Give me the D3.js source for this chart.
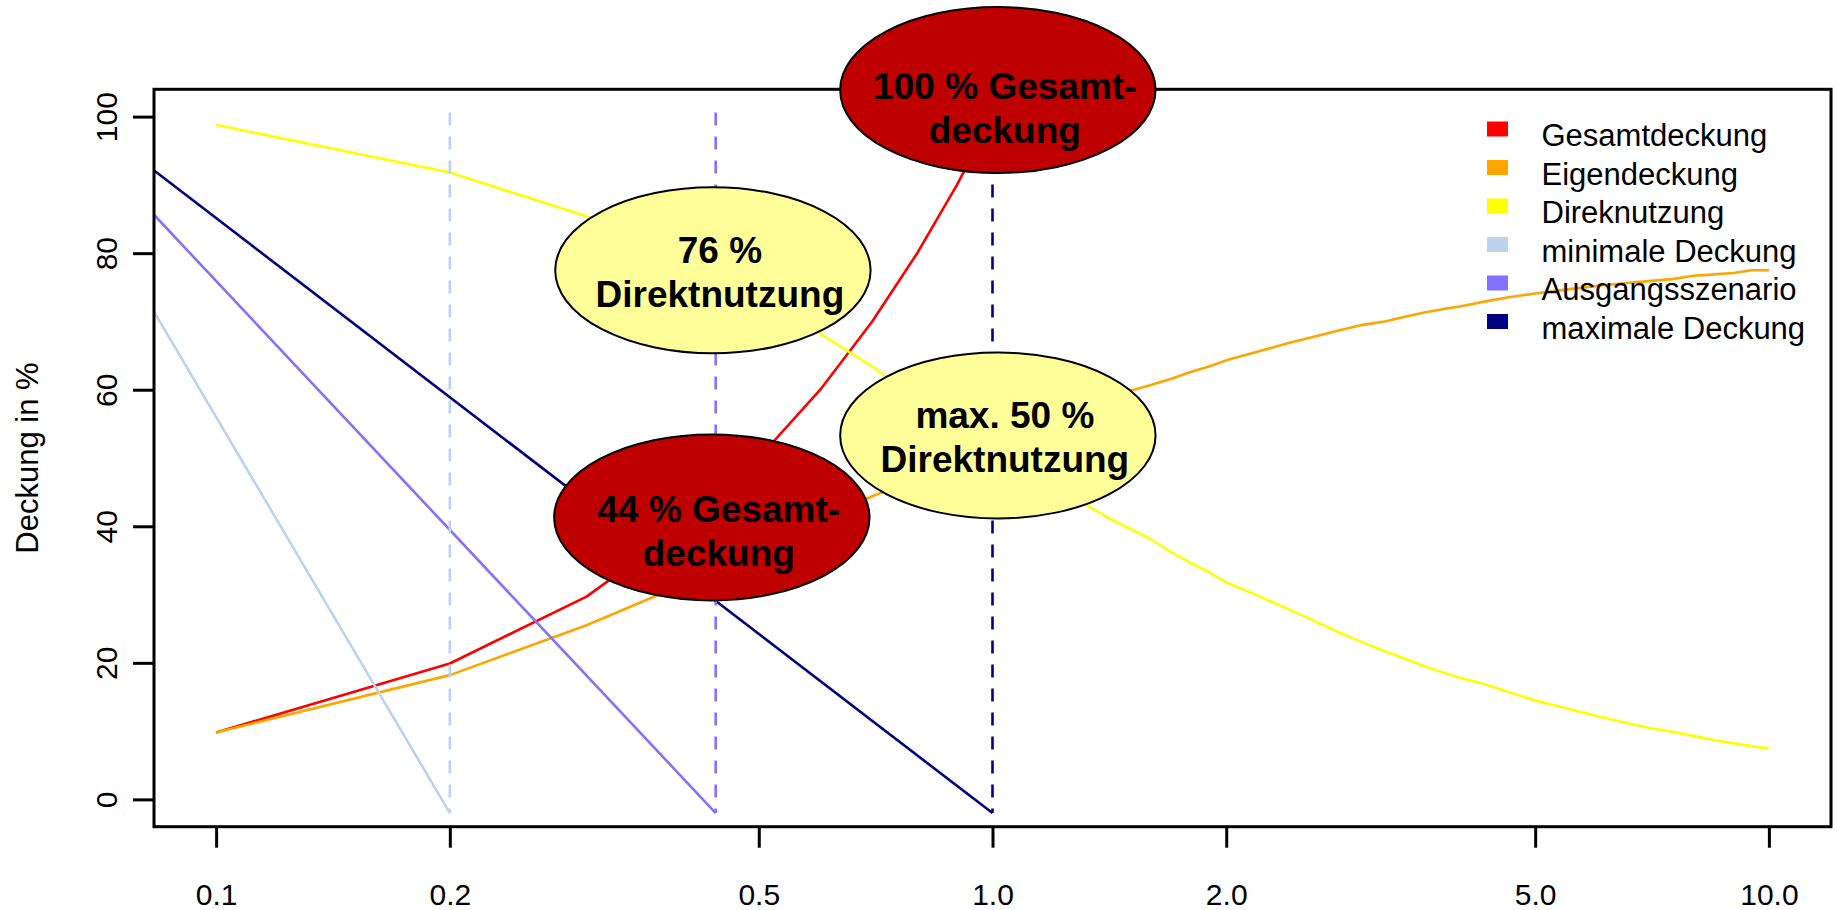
<!DOCTYPE html>
<html>
<head>
<meta charset="utf-8">
<script src="https://cdn.jsdelivr.net/npm/d3@7"></script>
<style>
  html, body { margin: 0; padding: 0; background: #fff; }
  svg { display: block; font-family: "Liberation Sans", Arial, Helvetica, sans-serif; }
</style>
</head>
<body>
<svg id="chart" width="1837" height="910"></svg>
<script>
// ---------------- data ----------------
const xTicks = [0.1, 0.2, 0.5, 1.0, 2.0, 5.0, 10.0];
const xTickLabels = ["0.1", "0.2", "0.5", "1.0", "2.0", "5.0", "10.0"];
const yTicks = [0, 20, 40, 60, 80, 100];
const yTickLabels = ["0", "20", "40", "60", "80", "100"];

// Gesamtdeckung
const gesamtX = [0.1, 0.2, 0.3, 0.4, 0.5, 0.6, 0.7, 0.8, 0.9, 1.0];
const gesamtY = [9.8, 19.9, 29.7, 40, 50, 60, 70, 80, 90, 100];

// shared x grid for Eigendeckung / Direktnutzung
const gridX = [0.1, 0.2, 0.3, 0.4, 0.5, 0.6, 0.7, 0.8, 0.9, 1.0, 1.1, 1.2, 1.3, 1.4, 1.5,
  1.6, 1.7, 1.8, 1.9, 2.0, 2.2, 2.4, 2.6, 2.8, 3.0, 3.2, 3.4, 3.6, 3.8, 4.0, 4.3, 4.6,
  5.0, 5.5, 6.0, 6.5, 7.0, 7.5, 8.0, 8.5, 9.0, 9.5, 10.0];
const eigenY = [9.8, 18.2, 25.5, 31.5, 36.8, 41.0, 44.4, 47.0, 49.0, 50.5, 52.6, 54.5, 56.6, 58.3, 59.8,
  60.7, 61.6, 62.6, 63.4, 64.3, 65.6, 66.8, 67.8, 68.7, 69.5, 70.0, 70.7, 71.3, 71.8, 72.2, 72.9, 73.5,
  74.1, 74.7, 75.2, 75.6, 75.9, 76.2, 76.7, 76.9, 77.1, 77.5, 77.5];
const direktY = [98.8, 91.8, 85.4, 79.0, 73.5, 68.2, 63.4, 58.5, 54.2, 50.5, 47.8, 45.3, 43.6, 41.4, 39.7,
  38.1, 36.2, 34.6, 33.3, 31.8, 29.8, 27.9, 26.1, 24.4, 23.0, 21.7, 20.6, 19.5, 18.6, 17.8, 16.9, 15.8,
  14.5, 13.3, 12.2, 11.3, 10.5, 9.9, 9.3, 8.7, 8.2, 7.8, 7.5];

// scenario lines (start at left plot edge, end at scenario value)
const minX = [0.0832, 0.2];   const minY = [71.4, -2];
const ausX = [0.0832, 0.44];  const ausY = [85.6, -2];
const maxX = [0.0832, 1.0];   const maxY = [92.1, -2];

// vertical dashed markers
const markerX = [0.2, 0.44, 1.0];
const markerY0 = -2, markerY1 = 100.6;

const seriesNames = ["Gesamtdeckung", "Eigendeckung", "Direknutzung", "minimale Deckung", "Ausgangsszenario", "maximale Deckung"];
const seriesColors = ["#FF0000", "#FFA500", "#FFFF00", "#BCD2EE", "#8470FF", "#000080"];

const annotations = [
  { x: 0.4364, y: 77.5, lines: ["76 %", "Direktnutzung"], fill: "#FFFF99", dy: -7 },
  { x: 1.016, y: 53.3, lines: ["max. 50 %", "Direktnutzung"], fill: "#FFFF99", dy: -7 },
  { x: 0.435, y: 41.3, lines: ["44 % Gesamt-", "deckung"], fill: "#BE0000", dy: 5 },
  { x: 1.016, y: 103.9, lines: ["100 % Gesamt-", "deckung"], fill: "#BE0000", dy: 9 }
];

// ---------------- layout ----------------
const plotL = 154, plotR = 1831, plotT = 89.3, plotB = 826.7;

const svg = d3.select("#chart");
const x = d3.scaleLog().domain([Math.pow(10, -1.08), Math.pow(10, 1.08)]).range([plotL, plotR]);
const y = d3.scaleLinear().domain([-4, 104]).range([plotB, plotT]);

svg.append("defs").append("clipPath").attr("id", "plotclip")
  .append("rect").attr("x", plotL).attr("y", plotT).attr("width", plotR - plotL).attr("height", plotB - plotT);

const plot = svg.append("g").attr("clip-path", "url(#plotclip)");
const line = d3.line().x(d => x(d[0])).y(d => y(d[1]));

function drawSeries(xs, ys, color, width) {
  plot.append("path")
    .datum(xs.map((v, i) => [v, ys[i]]))
    .attr("d", line)
    .attr("fill", "none")
    .attr("stroke", color)
    .attr("stroke-width", width)
    .attr("stroke-linejoin", "round");
}

drawSeries(gesamtX, gesamtY, seriesColors[0], 2.6);
drawSeries(gridX, eigenY, seriesColors[1], 2.6);
drawSeries(gridX, direktY, seriesColors[2], 2.6);
drawSeries(minX, minY, seriesColors[3], 2.6);
drawSeries(ausX, ausY, seriesColors[4], 2.6);
drawSeries(maxX, maxY, seriesColors[5], 2.6);

// dashed verticals
const markerColors = [seriesColors[3], seriesColors[4], seriesColors[5]];
plot.selectAll("line.marker").data(markerX).enter().append("line")
  .attr("class", "marker")
  .attr("x1", d => x(d)).attr("x2", d => x(d))
  .attr("y1", y(markerY1)).attr("y2", y(markerY0))
  .attr("stroke", (d, i) => markerColors[i])
  .attr("stroke-width", 2.6)
  .attr("stroke-dasharray", "13,11");

// box
svg.append("rect").attr("x", plotL).attr("y", plotT).attr("width", plotR - plotL).attr("height", plotB - plotT)
  .attr("fill", "none").attr("stroke", "#000").attr("stroke-width", 3);

// x axis
const xAxis = svg.append("g").attr("transform", `translate(0,${plotB})`)
  .call(d3.axisBottom(x).tickValues(xTicks).tickSize(21).tickFormat((d, i) => xTickLabels[i]));
xAxis.select(".domain").remove();
xAxis.selectAll("line").attr("stroke", "#000").attr("stroke-width", 3);
xAxis.selectAll("text").attr("y", 78).attr("dy", null)
  .attr("font-size", 30).attr("fill", "#000")
  .attr("font-family", "Liberation Sans, Arial, sans-serif");

// y axis
const yAxis = svg.append("g").attr("transform", `translate(${plotL},0)`)
  .call(d3.axisLeft(y).tickValues(yTicks).tickSize(21).tickFormat((d, i) => yTickLabels[i]));
yAxis.select(".domain").remove();
yAxis.selectAll("line").attr("stroke", "#000").attr("stroke-width", 3);
yAxis.selectAll("text")
  .attr("x", null).attr("dy", null)
  .attr("transform", "translate(-37,0) rotate(-90)")
  .attr("text-anchor", "middle")
  .attr("font-size", 30).attr("fill", "#000")
  .attr("font-family", "Liberation Sans, Arial, sans-serif");

// y axis title
svg.append("text")
  .attr("transform", `translate(38,${(plotT + plotB) / 2}) rotate(-90)`)
  .attr("text-anchor", "middle")
  .attr("font-size", 31)
  .text("Deckung in %");

// legend
const legend = svg.append("g");
const legBase = 146, legStep = 38.5;
seriesNames.forEach((name, i) => {
  const by = legBase + i * legStep;
  legend.append("rect").attr("x", 1487).attr("y", by - 24.5).attr("width", 21).attr("height", 15)
    .attr("fill", seriesColors[i]);
  legend.append("text").attr("x", 1541.5).attr("y", by).attr("font-size", 31).text(name);
});

// annotation ellipses
annotations.forEach(a => {
  const cx = x(a.x), cy = y(a.y);
  svg.append("ellipse").attr("cx", cx).attr("cy", cy).attr("rx", 157.7).attr("ry", 83)
    .attr("fill", a.fill).attr("stroke", "#000").attr("stroke-width", 2);
  a.lines.forEach((t, j) => {
    svg.append("text").attr("x", cx + 7).attr("y", cy + a.dy + j * 44)
      .attr("text-anchor", "middle").attr("font-size", 37).attr("font-weight", "bold")
      .attr("fill", "#000").text(t);
  });
});
</script>
</body>
</html>
